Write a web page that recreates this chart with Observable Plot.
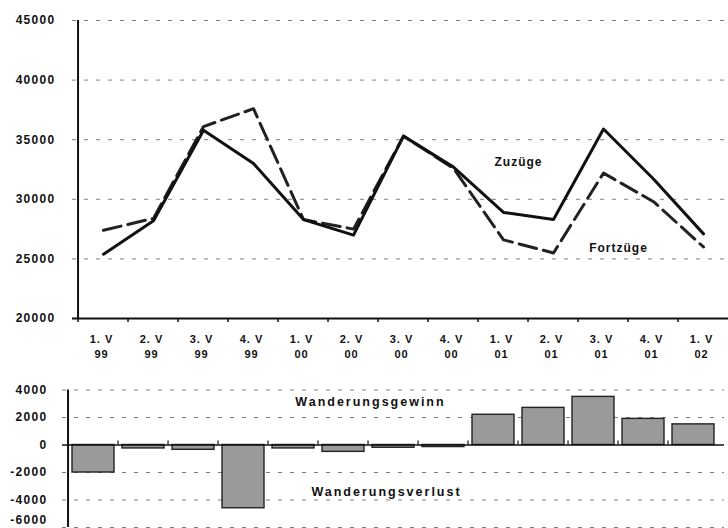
<!DOCTYPE html>
<html><head><meta charset="utf-8">
<script src="https://cdn.jsdelivr.net/npm/d3@7"></script>
<script src="https://cdn.jsdelivr.net/npm/@observablehq/plot@0.6"></script>
<style>
html,body{margin:0;padding:0;background:#fff;overflow:hidden;width:728px;height:528px}
svg{display:block}
g[aria-label="y-axis tick label"]{letter-spacing:1.3px}
g[aria-label="x-axis tick label"]{letter-spacing:1px}
g[aria-label="text"]{letter-spacing:1px}
g.big text{letter-spacing:2px}
</style></head><body><div id="chart"></div>
<script>
const quarters = ["1. V","2. V","3. V","4. V","1. V","2. V","3. V","4. V","1. V","2. V","3. V","4. V","1. V"];
const years = ["99","99","99","99","00","00","00","00","01","01","01","01","02"];
const zuzuege = [25400,28200,35800,33000,28300,27000,35300,32700,28900,28300,35900,31700,27100];
const fortzuege = [27400,28400,36100,37600,28300,27500,35300,32600,26600,25500,32200,29800,26000];
const saldo = [-2000,-250,-350,-4600,-250,-500,-200,-150,2200,2700,3500,1900,1500];
const yTicksTop = [20000,25000,30000,35000,40000,45000];
const yTicksBottom = [4000,2000,0,-2000,-4000,-6000];
const seriesLabels = ["Zuzüge","Fortzüge"];
const saldoLabels = ["Wanderungsgewinn","Wanderungsverlust"];

const cats = quarters.map((q,i)=>`${q} ${years[i]}`);
const rows = cats.map((c,i)=>({cat:c, zu:zuzuege[i], fo:fortzuege[i], saldo:saldo[i]}));
const W = 728;
const font = '"Liberation Sans", Arial, sans-serif';
const ink = "#111";
const fmt = d => String(d);

const xRangeTop = [72, 734];
const stepTop = (xRangeTop[1]-xRangeTop[0])/cats.length;
const xRangeBot = [62, 724];
const stepBot = (xRangeBot[1]-xRangeBot[0])/cats.length;

const topChart = Plot.plot({
  width: W, height: 370, marginTop: 20, marginBottom: 52, marginLeft: 72, marginRight: -6,
  style: {background:"white", fontFamily: font, fontWeight: "bold", color: ink, overflow: "hidden"},
  x: {type:"point", domain: cats, range: xRangeTop, padding: 0.5, axis: null},
  y: {domain: [20000, 45000], axis: null},
  marks: [
    Plot.ruleY(yTicksTop.filter(v => v > 20000), {stroke:"#808080", strokeDasharray:"4,8", strokeWidth:1}),
    Plot.ruleY([20000], {stroke: ink, strokeWidth: 2}),
    Plot.ruleX([cats[0]], {y1: 20000, y2: 45000, dx: -stepTop/2, stroke: ink, strokeWidth: 2}),
    Plot.ruleX(cats, {y1: 20000, y2: 20000, dx: -stepTop/2, insetBottom: -4, stroke: ink, strokeWidth: 1.5}),
    Plot.axisY(yTicksTop, {anchor:"left", tickSize: 0, tickPadding: 17, fontSize: 12, fontWeight:"bold", tickFormat: fmt}),
    Plot.axisX(cats, {anchor:"bottom", tickSize: 0, tickPadding: 14, dx: -2, fontSize: 11, fontWeight:"bold", lineHeight: 1.36,
      tickFormat: d => { const i = cats.indexOf(d); return quarters[i] + "\n" + years[i]; }}),
    Plot.line(rows, {x:"cat", y:"fo", stroke:"#222", strokeWidth: 3, strokeDasharray:"18,7"}),
    Plot.line(rows, {x:"cat", y:"zu", stroke: ink, strokeWidth: 3}),
    Plot.text([{t: seriesLabels[0], c: cats[8], v: 33100}, {t: seriesLabels[1], c: cats[10], v: 25900}],
      {x:"c", y:"v", text:"t", dx: 15, fontSize: 12, fontWeight:"bold", fill: ink})
  ]
});

const bottomChart = Plot.plot({
  width: W, height: 158, marginTop: 19.5, marginBottom: 1, marginLeft: 62, marginRight: 4,
  style: {background:"white", fontFamily: font, fontWeight: "bold", color: ink, overflow: "hidden"},
  x: {type:"band", domain: cats, range: xRangeBot, paddingInner: 0.17, paddingOuter: 0.085, axis: null},
  y: {domain: [-6000, 4000], axis: null},
  marks: [
    Plot.ruleY(yTicksBottom.filter(v => v !== 0), {stroke:"#808080", strokeDasharray:"4,8", strokeWidth:1}),
    Plot.barY(rows, {x:"cat", y:"saldo", fill:"#9a9a9a", stroke:"#222", strokeWidth: 1.4}),
    Plot.ruleY([0], {stroke: ink, strokeWidth: 1.5}),
    Plot.ruleX(cats, {y1: 0, y2: 0, dx: -stepBot/2, insetBottom: 4, stroke: ink, strokeWidth: 1.2}),
    Plot.ruleX([cats[0]], {y1: -6000, y2: 4000, dx: -stepBot/2, stroke: ink, strokeWidth: 2}),
    Plot.axisY(yTicksBottom.filter(v => v > -6000), {anchor:"left", tickSize: 0, tickPadding: 15, fontSize: 12, fontWeight:"bold", tickFormat: fmt}),
    Plot.axisY(yTicksBottom.filter(v => v === -6000), {anchor:"left", tickSize: 0, tickPadding: 15, dy: -7, fontSize: 12, fontWeight:"bold", tickFormat: fmt}),
    Plot.text([{t: saldoLabels[0], c: cats[6], v: 3100}, {t: saldoLabels[1], c: cats[6], v: -3450}],
      {x:"c", y:"v", text:"t", fontSize: 12.5, fontWeight:"bold", fill: ink})
  ]
});

document.getElementById("chart").append(topChart, bottomChart);
d3.select(bottomChart).selectAll('g[aria-label="text"]').attr("class", "big");
const bl = d3.select(bottomChart).selectAll('g[aria-label="text"] text').nodes();
if (bl[0]) bl[0].setAttribute("transform", (bl[0].getAttribute("transform")||"") + " translate(-23,0)");
if (bl[1]) bl[1].setAttribute("transform", (bl[1].getAttribute("transform")||"") + " translate(-7,0)");
</script></body></html>
